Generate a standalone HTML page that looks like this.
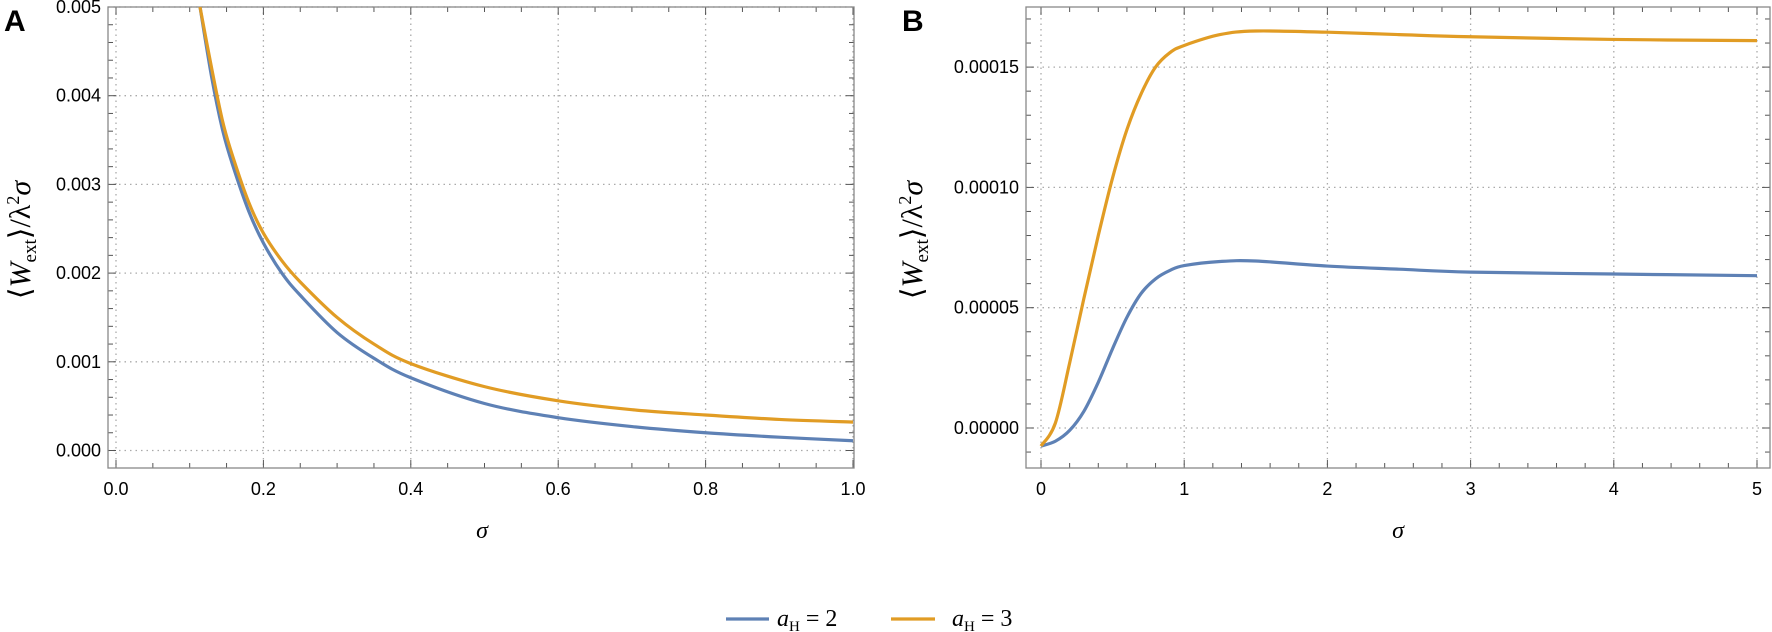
<!DOCTYPE html>
<html><head><meta charset="utf-8"><style>
html,body{margin:0;padding:0;background:#fff;}
svg{display:block;font-family:"Liberation Sans",sans-serif;}
.tl{font-size:18px;fill:#000;}
</style></head><body>
<svg id="chart" width="1772" height="632" viewBox="0 0 1772 632"></svg>
<script>
// Panel A data
const aSigma = [0.114,0.13,0.145,0.159,0.18,0.2,0.225,0.25,0.3,0.35,0.4,0.5,0.6,0.7,0.8,0.9,1.0];
const aBlue  = [0.0050,0.0042,0.0036,0.0032,0.0027,0.00234,0.00200,0.00175,0.00133,0.00104,0.00082,0.00053,0.00037,0.00027,0.00020,0.00015,0.00011];
const aOrange= [0.0050,0.0043,0.0037,0.0033,0.0028,0.00245,0.00214,0.00190,0.00150,0.00120,0.00098,0.00072,0.00056,0.00046,0.00040,0.00035,0.00032];
const aXTicks = [0,0.2,0.4,0.6,0.8,1.0];
const aXLabels = ["0.0","0.2","0.4","0.6","0.8","1.0"];
const aYTicks = [0,0.001,0.002,0.003,0.004,0.005];
const aYLabels = ["0.000","0.001","0.002","0.003","0.004","0.005"];
// Panel B data
const bSigma = [0,0.1,0.2,0.3,0.4,0.5,0.6,0.7,0.8,0.9,1,1.25,1.5,2,2.5,3,4,5];
const bOrange= [-0.0000075,0.000002,0.000027,0.000054,0.000080,0.000104,0.000124,0.000139,0.000150,0.000156,0.000159,0.0001635,0.000165,0.0001645,0.0001635,0.0001626,0.0001615,0.000161];
const bBlue  = [-0.0000075,-0.0000055,-0.000001,0.000007,0.000019,0.000033,0.000046,0.000056,0.000062,0.0000655,0.0000675,0.0000692,0.0000694,0.0000673,0.000066,0.0000648,0.000064,0.0000633];
const bXTicks = [0,1,2,3,4,5];
const bXLabels = ["0","1","2","3","4","5"];
const bYTicks = [0,0.00005,0.0001,0.00015];
const bYLabels = ["0.00000","0.00005","0.00010","0.00015"];

const NS="http://www.w3.org/2000/svg";
const svg=document.getElementById('chart');
function mk(tag,attrs,parent){const e=document.createElementNS(NS,tag);for(const k in attrs)e.setAttribute(k,attrs[k]);(parent||svg).appendChild(e);return e;}

function smooth(pts){
  let d="M"+pts[0][0]+","+pts[0][1];
  for(let i=0;i<pts.length-1;i++){
    const p0=pts[Math.max(0,i-1)],p1=pts[i],p2=pts[i+1],p3=pts[Math.min(pts.length-1,i+2)];
    const c1=[p1[0]+(p2[0]-p0[0])/6,p1[1]+(p2[1]-p0[1])/6];
    const c2=[p2[0]-(p3[0]-p1[0])/6,p2[1]-(p3[1]-p1[1])/6];
    d+=" C"+c1[0]+","+c1[1]+" "+c2[0]+","+c2[1]+" "+p2[0]+","+p2[1];
  }
  return d;
}

function panel(cfg){
  const g=mk('g',{});
  
  
  const X=v=>cfg.x0+v*cfg.xs, Y=v=>cfg.y0-v*cfg.ys;
  cfg.xt.forEach(v=>{const l=mk('line',{x1:X(v),x2:X(v),y1:cfg.top,y2:cfg.bot,stroke:'#aaa','stroke-width':1.3,'stroke-dasharray':'1.5,4'},g);
    });
  cfg.yt.forEach(v=>{const l=mk('line',{x1:cfg.left,x2:cfg.right,y1:Y(v),y2:Y(v),stroke:'#aaa','stroke-width':1.3,'stroke-dasharray':'1.5,4'},g);
    });
  for(let v=cfg.xmin;v<=cfg.xmax+1e-9;v+=cfg.xminor){const px=X(v);if(px<cfg.left||px>cfg.right)continue;
    const major=cfg.xt.some(t=>Math.abs(t-v)<1e-9);const L=major?8:5;
    mk('line',{x1:px,x2:px,y1:cfg.bot,y2:cfg.bot-L,stroke:'#555','stroke-width':1},g);
    mk('line',{x1:px,x2:px,y1:cfg.top,y2:cfg.top+L,stroke:'#555','stroke-width':1},g);}
  for(let v=cfg.ymin;v<=cfg.ymax+1e-12;v+=cfg.yminor){const py=Y(v);if(py<cfg.top||py>cfg.bot)continue;
    const major=cfg.yt.some(t=>Math.abs(t-v)<cfg.yminor/10);const L=major?8:5;
    mk('line',{x1:cfg.left,x2:cfg.left+L,y1:py,y2:py,stroke:'#555','stroke-width':1},g);
    mk('line',{x1:cfg.right,x2:cfg.right-L,y1:py,y2:py,stroke:'#555','stroke-width':1},g);}
  const f=mk('rect',{x:cfg.left,y:cfg.top,width:cfg.right-cfg.left,height:cfg.bot-cfg.top,fill:'none',stroke:'#888','stroke-width':1.3},g);
  
  cfg.xt.forEach((v,i)=>{const t=mk('text',{x:X(v),y:cfg.bot+27,'text-anchor':'middle',class:'tl'},g);t.textContent=cfg.xl[i];
    });
  cfg.yt.forEach((v,i)=>{const t=mk('text',{x:cfg.left-7,y:Y(v)+6,'text-anchor':'end',class:'tl'},g);t.textContent=cfg.yl[i];
    });
  [[cfg.blue,'#5e81b5','series-a-h-2'],[cfg.orange,'#e19c24','series-a-h-3']].forEach(s=>{
    const pts=cfg.sx.map((v,i)=>[X(v),Y(s[0][i])]);
    const p=mk('path',{d:smooth(pts),fill:'none',stroke:s[1],'stroke-width':3.2,'stroke-linejoin':'round'},g);
    
  });
}
panel({name:'panel-a',left:108,right:854,top:7,bot:468,x0:116,xs:737,y0:450.5,ys:88700,
  xt:aXTicks,xl:aXLabels,yt:aYTicks,yl:aYLabels,xmin:0,xmax:1,xminor:0.05,ymin:-0.0002,ymax:0.0052,yminor:0.0002,
  sx:aSigma,blue:aBlue,orange:aOrange});
panel({name:'panel-b',left:1026,right:1770,top:7,bot:468,x0:1041,xs:143.2,y0:428,ys:2406000,
  xt:bXTicks,xl:bXLabels,yt:bYTicks,yl:bYLabels,xmin:0,xmax:5.1,xminor:0.2,ymin:-0.00001,ymax:0.00018,yminor:0.00001,
  sx:bSigma,blue:bBlue,orange:bOrange});
</script>
<div style="position:absolute;left:0;top:0;width:1772px;height:632px;pointer-events:none">
<svg width="1772" height="632" style="position:absolute;left:0;top:0">
  <text x="4" y="31" style="font-family:'Liberation Sans',sans-serif;font-weight:bold;font-size:30px">A</text>
  <text x="902" y="31" style="font-family:'Liberation Sans',sans-serif;font-weight:bold;font-size:30px">B</text>
  <text transform="translate(30,240) rotate(-90)" text-anchor="middle" style="font-family:'Liberation Serif',serif;font-size:30px">⟨<tspan font-style="italic">W</tspan><tspan font-size="19" dy="6">ext</tspan><tspan dy="-6">⟩/λ</tspan><tspan font-size="18" dy="-11">2</tspan><tspan font-style="italic" dy="11">σ</tspan></text>
  <text transform="translate(922,240) rotate(-90)" text-anchor="middle" style="font-family:'Liberation Serif',serif;font-size:30px">⟨<tspan font-style="italic">W</tspan><tspan font-size="19" dy="6">ext</tspan><tspan dy="-6">⟩/λ</tspan><tspan font-size="18" dy="-11">2</tspan><tspan font-style="italic" dy="11">σ</tspan></text>
  <text x="482" y="538" text-anchor="middle" style="font-family:'Liberation Serif',serif;font-style:italic;font-size:24px">σ</text>
  <text x="1398" y="538" text-anchor="middle" style="font-family:'Liberation Serif',serif;font-style:italic;font-size:24px">σ</text>
  <g>
    <line x1="726" x2="769" y1="619" y2="619" stroke="#5e81b5" stroke-width="3.2"/>
    <text x="777" y="626" style="font-family:'Liberation Serif',serif;font-size:24px"><tspan font-style="italic">a</tspan><tspan font-size="15" dy="5">H</tspan><tspan dy="-5"> = 2</tspan></text>
    <line x1="891" x2="935" y1="619" y2="619" stroke="#e19c24" stroke-width="3.2"/>
    <text x="952" y="626" style="font-family:'Liberation Serif',serif;font-size:24px"><tspan font-style="italic">a</tspan><tspan font-size="15" dy="5">H</tspan><tspan dy="-5"> = 3</tspan></text>
  </g>
</svg>
</div>
</body></html>
